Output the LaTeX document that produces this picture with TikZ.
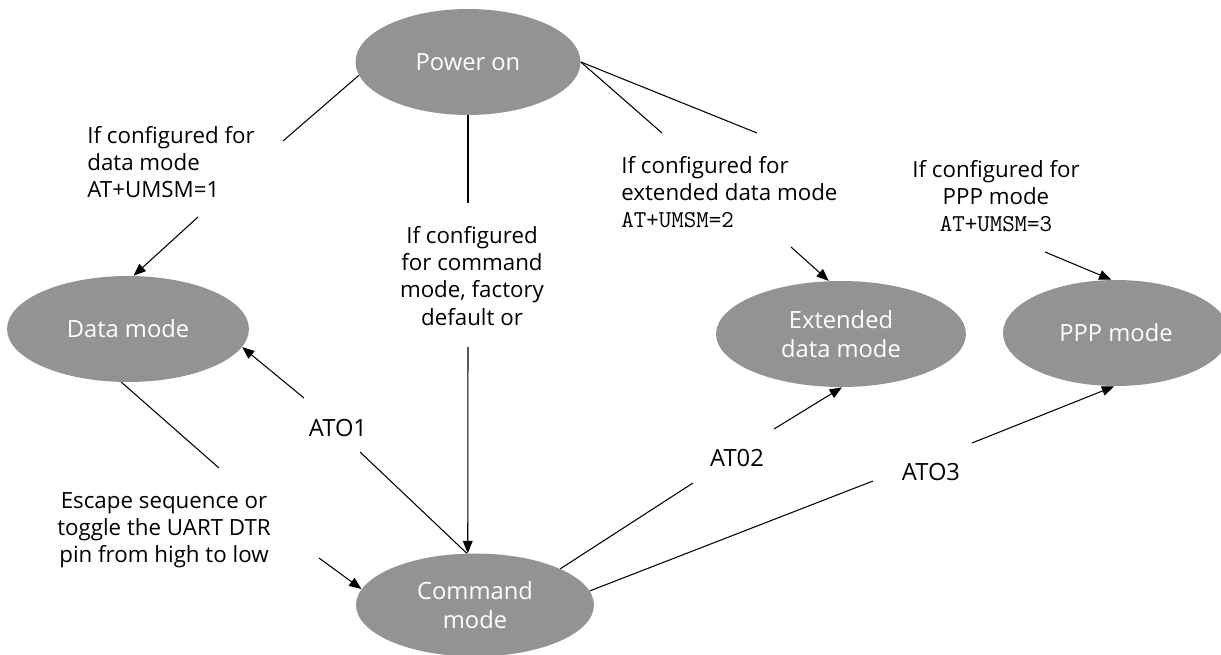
\documentclass[tikz,border=0pt]{standalone}
\usepackage{fontspec}
\setmainfont{Open Sans}
\usetikzlibrary{arrows.meta,shapes.geometric}
\definecolor{stategray}{RGB}{146,147,149}
\newcommand{\atcmd}[1]{{\fontsize{13.8}{15.4}\selectfont\ttfamily #1}}
\tikzset{
  state/.style={ellipse, fill=stategray, text=white, inner sep=0pt, align=center, font=\fontsize{13.5}{16.5}\selectfont},
  lbl/.style={inner sep=0pt, font=\fontsize{12.7}{15.4}\selectfont},
  atlbl/.style={inner sep=0pt, font=\fontsize{13.5}{16}\selectfont},
  conn/.style={line width=0.6pt},
  arr/.style={conn, -{Triangle[length=7pt,width=5.5pt]}}
}
\begin{document}
\begin{tikzpicture}[x=0.02cm, y=-0.02cm]
\useasboundingbox (0,0) rectangle (1221,655);
% 状態
\node[state, minimum width=4.5cm, minimum height=2.12cm] (power) at (468,62) {Power on};
\node[state, minimum width=4.84cm, minimum height=2.12cm] (data) at (128,329) {Data mode};
\node[state, minimum width=4.76cm, minimum height=2.06cm] (cmd) at (475,605) {Command\\mode};
\node[state, minimum width=5cm, minimum height=2.12cm] (ext) at (841,334) {Extended\\data mode};
\node[state, minimum width=4.52cm, minimum height=2.12cm] (ppp) at (1116,333) {PPP mode};

% ラベル
\node[lbl, anchor=west, align=left] (lbldata) at (87,162) {If configured for\\data mode\\AT+UMSM=1};
\node[lbl, align=center] (lblcmd) at (472,276) {If configured\\for command\\mode, factory\\default or};
\node[lbl, anchor=west, align=left] (lblext) at (621,192) {If configured for\\extended data mode\\\atcmd{AT+UMSM=2}};
\node[lbl, align=center] (lblppp) at (996,196) {If configured for\\PPP mode\\\atcmd{AT+UMSM=3}};
\node[lbl, align=center] (lblesc) at (164,530) {Escape sequence or\\toggle the UART DTR\\pin from high to low};
\node[atlbl] (ato1) at (338,428) {ATO1};
\node[atlbl] (at02) at (737,458) {AT02};
\node[atlbl] (ato3) at (931,472) {ATO3};

% 線の端点
\coordinate (c1) at (283,141);
\coordinate (c2) at (198,217);
\coordinate (c3) at (468,203);
\coordinate (c4) at (468,347);
\coordinate (c5) at (662,133);
\coordinate (c6) at (757,133);
\coordinate (c7) at (791,247);
\coordinate (c8) at (1045,252);
\coordinate (c9) at (360,452);
\coordinate (c10) at (304,398);
\coordinate (c11) at (219,468);
\coordinate (c12) at (319,558);
\coordinate (c13) at (693,483);
\coordinate (c14) at (774,429);
\coordinate (c15) at (873,481);
\coordinate (c16) at (972,443);

% 電源投入から
\draw[conn] (power.187) -- (c1);
\draw[arr] (c2) -- (data.84);
\draw[conn] (power.south) -- (c3);
\draw[arr] (c4) -- (cmd.98);
\draw[conn] (power.east) -- (c5);
\draw[conn] (power.east) -- (c6);
\draw[arr] (c7) -- (ext.103);
\draw[arr] (c8) -- (ppp.95);

% コマンドモードとの遷移
\draw[conn] (cmd.99) -- (c9);
\draw[arr] (c10) -- (data.351);
\draw[conn] (data.263) -- (c11);
\draw[arr] (c12) -- (cmd.172);
\draw[conn] (cmd.23) -- (c13);
\draw[arr] (c14) -- (ext.271);
\draw[conn] (cmd.7) -- (c15);
\draw[arr] (c16) -- (ppp.268);
\end{tikzpicture}
\end{document}
